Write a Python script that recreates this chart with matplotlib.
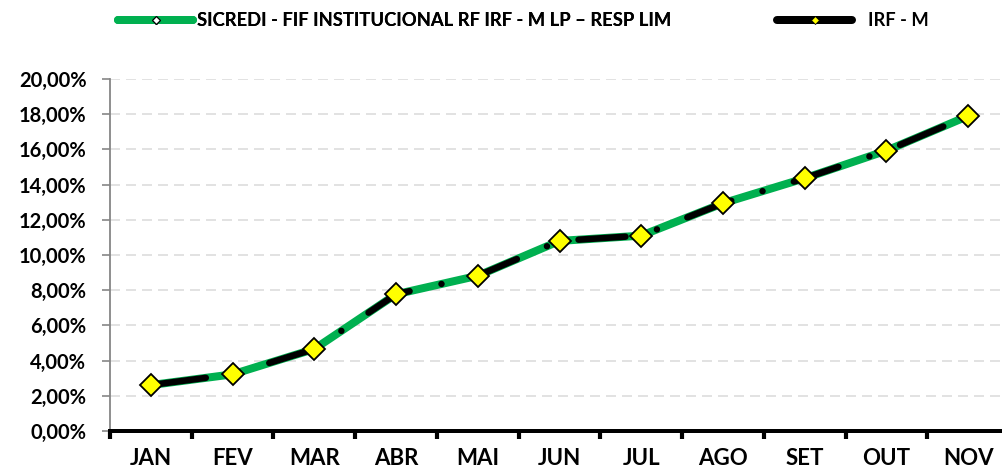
import matplotlib
matplotlib.use("Agg")
import matplotlib.pyplot as plt
from matplotlib.lines import Line2D

plt.rcParams['font.family'] = ['Lato', 'DejaVu Sans']
plt.rcParams['font.weight'] = 'bold'
plt.rcParams['lines.scale_dashes'] = False

months = ["JAN", "FEV", "MAR", "ABR", "MAI", "JUN", "JUL", "AGO", "SET", "OUT", "NOV"]
sicredi = [2.61, 3.22, 4.66, 7.77, 8.82, 10.80, 11.10, 12.94, 14.36, 15.93, 17.90]
irfm = [2.61, 3.22, 4.66, 7.77, 8.82, 10.80, 11.10, 12.94, 14.36, 15.93, 17.90]
yticks = [0, 2, 4, 6, 8, 10, 12, 14, 16, 18, 20]
ytick_labels = ["0,00%", "2,00%", "4,00%", "6,00%", "8,00%", "10,00%",
                "12,00%", "14,00%", "16,00%", "18,00%", "20,00%"]
label_sicredi = "SICREDI - FIF INSTITUCIONAL RF IRF - M LP \u2013 RESP LIM"
label_irfm = "IRF - M"

GREEN = "#00B050"
YELLOW = "#FFFF00"
px = 0.72  # points per pixel at dpi 100

fig = plt.figure(figsize=(10.02, 4.75), dpi=100)
ax = fig.add_axes([110 / 1002, 44 / 475, (1009 - 110) / 1002, (431 - 79) / 475])

x = list(range(len(months)))

ax.plot(x, sicredi, color=GREEN, lw=8 * px, solid_capstyle='round',
        solid_joinstyle='round', marker='D', ms=4, mfc='white', mec='black',
        mew=0.8, zorder=3)
ax.plot(x, irfm, color='black', lw=6.5 * px, dash_capstyle='round',
        dash_joinstyle='round',
        linestyle=(104 * px, (47 * px, 32.7 * px, 0.01, 32.7 * px)),
        marker='D', ms=11, mfc=YELLOW, mec='black', mew=1.3, zorder=4)

ax.set_xlim(-0.5, len(months) - 0.5)
ax.set_ylim(0, 20)

# x axis: ticks between categories, labels at centers
ax.set_xticks([i - 0.5 for i in range(len(months) + 1)])
ax.set_xticklabels([])
ax.set_xticks(x, minor=True)
ax.set_xticklabels(months, minor=True, fontsize=16, fontweight='bold')
ax.tick_params(axis='x', which='major', direction='out', length=6, width=3, color='black')
ax.tick_params(axis='x', which='minor', length=0, pad=12)

ax.set_yticks(yticks)
ax.set_yticklabels(ytick_labels, fontsize=14.5, fontweight='bold')
ax.tick_params(axis='y', direction='out', length=6, width=1.2, color='#868686', pad=11)

ax.grid(axis='y', color='#d9d9d9', lw=1.5 * px, linestyle=(0, (10 * px, 6 * px)), zorder=0)
ax.set_axisbelow(True)

for s in ['top', 'right']:
    ax.spines[s].set_visible(False)
ax.spines['left'].set_color('#868686')
ax.spines['left'].set_linewidth(1.3)
ax.spines['bottom'].set_color('black')
ax.spines['bottom'].set_linewidth(4 * px)
ax.spines['bottom'].set_zorder(5)

h1 = Line2D([], [], color=GREEN, lw=8 * px, solid_capstyle='round', marker='D',
            ms=4.5, mfc='white', mec='black', mew=0.9)
h2 = Line2D([], [], color='black', lw=8 * px, solid_capstyle='round', marker='D',
            ms=4.5, mfc=YELLOW, mec='black', mew=0.6)
fs = 13.2
fpx = fs / px
leg1 = fig.legend([h1], [label_sicredi], loc='center left',
                  bbox_to_anchor=(118 / 1002, 1 - 20.5 / 475), frameon=False,
                  borderpad=0, borderaxespad=0, handlelength=75 / fpx,
                  handletextpad=4 / fpx, prop={'size': fs, 'weight': 'bold'})
leg2 = fig.legend([h2], [label_irfm], loc='center left',
                  bbox_to_anchor=(777 / 1002, 1 - 20.5 / 475), frameon=False,
                  borderpad=0, borderaxespad=0, handlelength=75 / fpx,
                  handletextpad=16 / fpx, prop={'size': fs, 'weight': 'bold'})
fig.add_artist(leg1)

fig.savefig("out.png", dpi=100)
